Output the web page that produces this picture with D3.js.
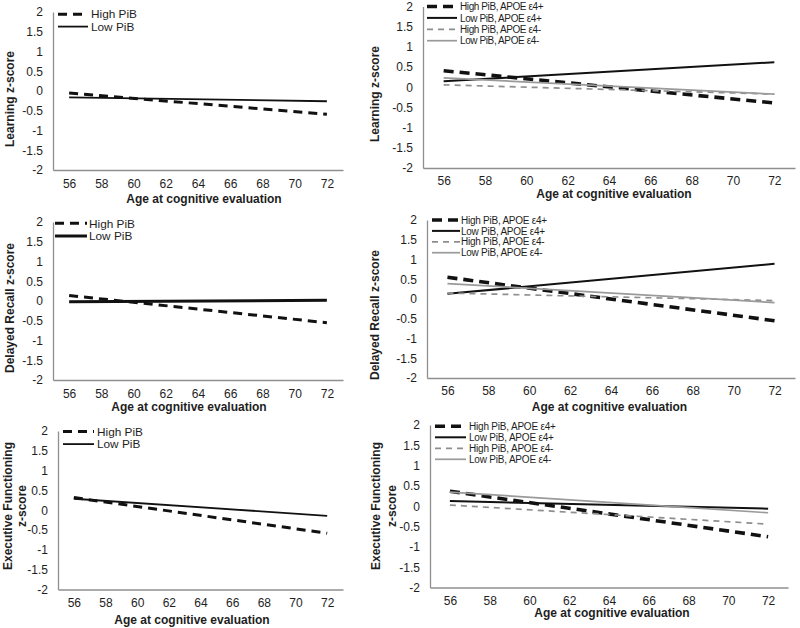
<!DOCTYPE html>
<html><head><meta charset="utf-8">
<script src="https://cdn.jsdelivr.net/npm/d3@7"></script>
<style>
body{margin:0;background:#fff}
svg{display:block}
text{font-family:"Liberation Sans",Arial,sans-serif;fill:#1e1e1e}
</style>
</head><body>
<svg id="c" width="800" height="628"></svg>
<script>
// ---- data ----
const ages = [56, 58, 60, 62, 64, 66, 68, 70, 72];
const yTicks = [-2, -1.5, -1, -0.5, 0, 0.5, 1, 1.5, 2];
const lineAges = [56, 72];

const learningHigh = [-0.05, -0.59];
const learningLow = [-0.16, -0.26];
const learningHighE4p = [0.41, -0.39];
const learningLowE4p = [0.15, 0.62];
const learningHighE4m = [0.06, -0.17];
const learningLowE4m = [0.23, -0.17];

const recallHigh = [0.14, -0.55];
const recallLow = [-0.02, 0.02];
const recallHighE4p = [0.55, -0.55];
const recallLowE4p = [0.13, 0.89];
const recallHighE4m = [0.15, -0.04];
const recallLowE4m = [0.39, -0.09];

const execHigh = [0.32, -0.58];
const execLow = [0.29, -0.14];
const execHighE4p = [0.37, -0.75];
const execLowE4p = [0.13, -0.06];
const execHighE4m = [0.03, -0.44];
const execLowE4m = [0.35, -0.16];

const twoNames = ["High PiB", "Low PiB"];
const fourNames = ["High PiB, APOE \u03b54+", "Low PiB, APOE \u03b54+", "High PiB, APOE \u03b54-", "Low PiB, APOE \u03b54-"];
const xTitle = "Age at cognitive evaluation";

// ---- styles ----
const styles = {
  high: {color: "#111", width: 3, dash: "9,6"},
  low: {color: "#111", width: 1.8, dash: null},
  lowThick: {color: "#111", width: 3, dash: null},
  highE4p: {color: "#111", width: 3.6, dash: "10,6"},
  lowE4p: {color: "#111", width: 2, dash: null},
  highE4m: {color: "#8e8e8e", width: 1.7, dash: "6,5"},
  lowE4m: {color: "#9a9a9a", width: 1.7, dash: null}
};

const panels = [
  {x0: 53, x1: 343, yTop: 12, yBot: 170, tp: 9,
   yTitle: [["Learning z-score", 10, 99]], xT: [204, 202.5],
   leg: {x0: 58, x1: 88, tx: 91, y0: 14.2, dy: 12.4, fs: 11.8, ls: 0},
   series: [[twoNames[0], learningHigh, "high"], [twoNames[1], learningLow, "low"]]},
  {x0: 423, x1: 795, yTop: 6.5, yBot: 168, tp: 8.5,
   yTitle: [["Learning z-score", 375, 94]], xT: [614, 198],
   leg: {x0: 427, x1: 457, tx: 460, y0: 6.5, dy: 11.4, fs: 10, ls: -0.4},
   series: [[fourNames[0], learningHighE4p, "highE4p"], [fourNames[1], learningLowE4p, "lowE4p"],
            [fourNames[2], learningHighE4m, "highE4m"], [fourNames[3], learningLowE4m, "lowE4m"]]},
  {x0: 53, x1: 343, yTop: 222, yBot: 380, tp: 9,
   yTitle: [["Delayed Recall z-score", 10, 308]], xT: [189, 411],
   leg: {x0: 55, x1: 87, tx: 89, y0: 223.3, dy: 12.7, fs: 11.8, ls: 0},
   series: [[twoNames[0], recallHigh, "high"], [twoNames[1], recallLow, "lowThick"]]},
  {x0: 427, x1: 795, yTop: 220, yBot: 378, tp: 8.5,
   yTitle: [["Delayed Recall z-score", 375, 315]], xT: [609.5, 411],
   leg: {x0: 432, x1: 460, tx: 461, y0: 220, dy: 10.9, fs: 10, ls: -0.25},
   series: [[fourNames[0], recallHighE4p, "highE4p"], [fourNames[1], recallLowE4p, "lowE4p"],
            [fourNames[2], recallHighE4m, "highE4m"], [fourNames[3], recallLowE4m, "lowE4m"]]},
  {x0: 58, x1: 343, yTop: 431, yBot: 589.5, tp: 8.5,
   yTitle: [["Executive Functioning", 8, 506], ["z-score", 22, 506]], xT: [192, 623.5],
   leg: {x0: 63, x1: 94, tx: 97, y0: 431.6, dy: 12.5, fs: 11.8, ls: 0},
   series: [[twoNames[0], execHigh, "high"], [twoNames[1], execLow, "low"]]},
  {x0: 430, x1: 788, yTop: 425, yBot: 587.5, tp: 8.5,
   yTitle: [["Executive Functioning", 376, 506], ["z-score", 392, 506]], xT: [612, 617],
   leg: {x0: 435, x1: 466, tx: 469, y0: 426.3, dy: 11, fs: 10, ls: -0.2},
   series: [[fourNames[0], execHighE4p, "highE4p"], [fourNames[1], execLowE4p, "lowE4p"],
            [fourNames[2], execHighE4m, "highE4m"], [fourNames[3], execLowE4m, "lowE4m"]]}
];

const svg = d3.select("#c");

panels.forEach(p => {
  const g = svg.append("g");
  const x = d3.scaleLinear().domain([55, 73]).range([p.x0, p.x1]);
  const y = d3.scaleLinear().domain([-2, 2]).range([p.yBot, p.yTop]);

  const xa = g.append("g").attr("transform", `translate(0,${p.yBot})`)
    .call(d3.axisBottom(x).tickValues(ages).tickSize(0).tickSizeOuter(0).tickPadding(p.tp).tickFormat(d3.format("d")));
  const ya = g.append("g").attr("transform", `translate(${p.x0},0)`)
    .call(d3.axisLeft(y).tickValues(yTicks).tickSize(0).tickSizeOuter(0).tickPadding(10).tickFormat(d => String(d)));
  [xa, ya].forEach(a => {
    a.select(".domain").attr("stroke", "#8f8f8f").attr("stroke-width", 1.3);
    a.selectAll("text").attr("font-size", 12).attr("fill", "#222")
      .style("font-family", '"Liberation Sans",Arial,sans-serif');
  });

  const line = d3.line().x((d, i) => x(lineAges[i])).y(d => y(d));

  p.series.forEach(([name, vals, sk], i) => {
    const s = styles[sk];
    g.append("path").datum(vals).attr("d", line)
      .attr("fill", "none").attr("stroke", s.color).attr("stroke-width", s.width)
      .attr("stroke-dasharray", s.dash);
    const ly = p.leg.y0 + i * p.leg.dy;
    g.append("line").attr("x1", p.leg.x0).attr("x2", p.leg.x1).attr("y1", ly).attr("y2", ly)
      .attr("stroke", s.color).attr("stroke-width", s.width).attr("stroke-dasharray", s.dash);
    g.append("text").attr("x", p.leg.tx).attr("y", ly).attr("dy", "0.36em")
      .attr("font-size", p.leg.fs).attr("letter-spacing", p.leg.ls).text(name);
  });

  p.yTitle.forEach(([t, tx, ty]) => {
    g.append("text").attr("transform", `translate(${tx},${ty}) rotate(-90)`)
      .attr("text-anchor", "middle").attr("dy", "0.36em")
      .attr("font-size", 12).attr("font-weight", "bold").text(t);
  });
  g.append("text").attr("x", p.xT[0]).attr("y", p.xT[1]).attr("text-anchor", "middle")
    .attr("font-size", 12).attr("font-weight", "bold").text(xTitle);
});
</script>
</body></html>
